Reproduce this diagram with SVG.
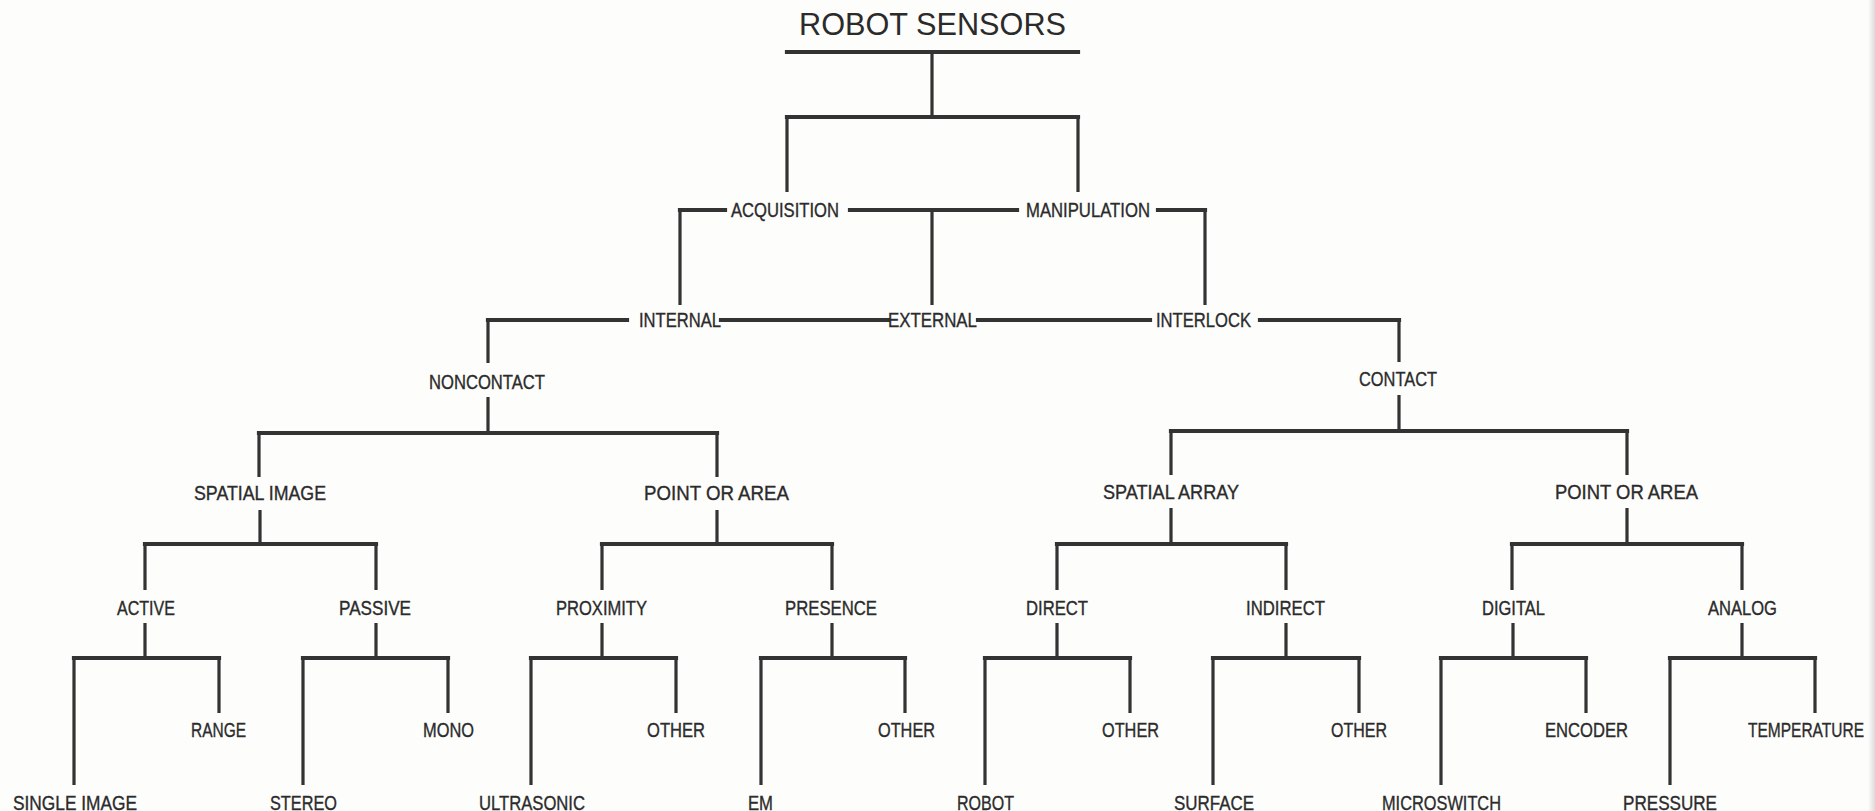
<svg xmlns="http://www.w3.org/2000/svg" width="1875" height="811" viewBox="0 0 1875 811">
<defs>
<linearGradient id="edge" x1="0" y1="0" x2="1" y2="0">
<stop offset="0" stop-color="#fdfdfc"/>
<stop offset="1" stop-color="#dcdcdc"/>
</linearGradient>
</defs>
<style>
.bg{fill:#fdfdfc}
.h{fill:none;stroke:#333;stroke-width:4.2;stroke-linecap:square;stroke-linejoin:miter}
.v{fill:none;stroke:#333;stroke-width:3.2;stroke-linecap:butt}
text{font-family:"Liberation Sans",Arial,sans-serif;fill:#2b2b2b;text-anchor:middle}
.t{font-size:32px}
.l{font-size:20px;stroke:#2b2b2b;stroke-width:0.35}
</style>
<rect class="bg" x="0" y="0" width="1875" height="811"/>
<rect x="1868" y="0" width="7" height="811" fill="url(#edge)"/>
<g id="connectors">
<path class="h" d="M787 52H1078"/>
<path class="v" d="M932 52V117"/>
<path class="h" d="M787 117H1078"/>
<path class="v" d="M787 117V192M1078 117V192"/>
<path class="h" d="M680 210H725M850 210H1017M1158 210H1205"/>
<path class="v" d="M680 210V305M932 210V305M1205 210V305"/>
<path class="h" d="M488 320H627M721 320H888M978 320H1150M1260 320H1399"/>
<path class="v" d="M488 320V363M1399 320V362"/>
<path class="v" d="M488 397V433M1399 395V431"/>
<path class="h" d="M259 433H717M1171 431H1627"/>
<path class="v" d="M259 433V477M717 433V477M1171 431V475M1627 431V475"/>
<path class="v" d="M260 510V544M717 510V544M1171 508V544M1627 508V544"/>
<path class="h" d="M145 544H376M602 544H832M1057 544H1286M1512 544H1742"/>
<path class="v" d="M145 544V590M376 544V590M602 544V590M832 544V590M1057 544V590M1286 544V590M1512 544V590M1742 544V590"/>
<path class="v" d="M145 623V658M376 623V658M602 623V658M832 623V658M1057 623V658M1286 623V658M1513 623V658M1742 623V658"/>
<path class="h" d="M74 658H219M303 658H448M531 658H676M761 658H905M985 658H1130M1213 658H1359M1441 658H1586M1670 658H1815"/>
<path class="v" d="M74 658V785M303 658V785M531 658V785M761 658V785M985 658V785M1213 658V785M1441 658V785M1670 658V785"/>
<path class="v" d="M219 658V713M448 658V713M676 658V713M905 658V713M1130 658V713M1359 658V713M1586 658V713M1815 658V713"/>
</g>
<g id="robot-sensors"><text class="t" x="932.5" y="35" textLength="267" lengthAdjust="spacingAndGlyphs">ROBOT SENSORS</text></g>
<g id="acquisition"><text class="l" x="785" y="217" textLength="108" lengthAdjust="spacingAndGlyphs">ACQUISITION</text></g>
<g id="manipulation"><text class="l" x="1088" y="217" textLength="124" lengthAdjust="spacingAndGlyphs">MANIPULATION</text></g>
<g id="internal"><text class="l" x="680" y="327" textLength="82" lengthAdjust="spacingAndGlyphs">INTERNAL</text></g>
<g id="external"><text class="l" x="932.5" y="327" textLength="89" lengthAdjust="spacingAndGlyphs">EXTERNAL</text></g>
<g id="interlock"><text class="l" x="1203.5" y="327" textLength="95" lengthAdjust="spacingAndGlyphs">INTERLOCK</text></g>
<g id="noncontact"><text class="l" x="487" y="389" textLength="116" lengthAdjust="spacingAndGlyphs">NONCONTACT</text></g>
<g id="contact"><text class="l" x="1398" y="386" textLength="78" lengthAdjust="spacingAndGlyphs">CONTACT</text></g>
<g id="spatial-image"><text class="l" x="260" y="500" textLength="132" lengthAdjust="spacingAndGlyphs">SPATIAL  IMAGE</text></g>
<g id="point-or-area-1"><text class="l" x="716.5" y="500" textLength="145" lengthAdjust="spacingAndGlyphs">POINT  OR  AREA</text></g>
<g id="spatial-array"><text class="l" x="1171" y="499" textLength="136" lengthAdjust="spacingAndGlyphs">SPATIAL  ARRAY</text></g>
<g id="point-or-area-2"><text class="l" x="1626.5" y="499" textLength="143" lengthAdjust="spacingAndGlyphs">POINT  OR  AREA</text></g>
<g id="active"><text class="l" x="146" y="615" textLength="58" lengthAdjust="spacingAndGlyphs">ACTIVE</text></g>
<g id="passive"><text class="l" x="375" y="615" textLength="72" lengthAdjust="spacingAndGlyphs">PASSIVE</text></g>
<g id="proximity"><text class="l" x="601.5" y="615" textLength="91" lengthAdjust="spacingAndGlyphs">PROXIMITY</text></g>
<g id="presence"><text class="l" x="831" y="615" textLength="92" lengthAdjust="spacingAndGlyphs">PRESENCE</text></g>
<g id="direct"><text class="l" x="1057" y="615" textLength="62" lengthAdjust="spacingAndGlyphs">DIRECT</text></g>
<g id="indirect"><text class="l" x="1285.5" y="615" textLength="79" lengthAdjust="spacingAndGlyphs">INDIRECT</text></g>
<g id="digital"><text class="l" x="1513.5" y="615" textLength="63" lengthAdjust="spacingAndGlyphs">DIGITAL</text></g>
<g id="analog"><text class="l" x="1742.5" y="615" textLength="69" lengthAdjust="spacingAndGlyphs">ANALOG</text></g>
<g id="range"><text class="l" x="218.5" y="737" textLength="55" lengthAdjust="spacingAndGlyphs">RANGE</text></g>
<g id="mono"><text class="l" x="448.5" y="737" textLength="51" lengthAdjust="spacingAndGlyphs">MONO</text></g>
<g id="other-1"><text class="l" x="676" y="737" textLength="58" lengthAdjust="spacingAndGlyphs">OTHER</text></g>
<g id="other-2"><text class="l" x="906.5" y="737" textLength="57" lengthAdjust="spacingAndGlyphs">OTHER</text></g>
<g id="other-3"><text class="l" x="1130.5" y="737" textLength="57" lengthAdjust="spacingAndGlyphs">OTHER</text></g>
<g id="other-4"><text class="l" x="1359" y="737" textLength="56" lengthAdjust="spacingAndGlyphs">OTHER</text></g>
<g id="encoder"><text class="l" x="1586.5" y="737" textLength="83" lengthAdjust="spacingAndGlyphs">ENCODER</text></g>
<g id="temperature"><text class="l" x="1806" y="737" textLength="116" lengthAdjust="spacingAndGlyphs">TEMPERATURE</text></g>
<g id="single-image"><text class="l" x="75" y="809.5" textLength="124" lengthAdjust="spacingAndGlyphs">SINGLE  IMAGE</text></g>
<g id="stereo"><text class="l" x="303.5" y="809.5" textLength="67" lengthAdjust="spacingAndGlyphs">STEREO</text></g>
<g id="ultrasonic"><text class="l" x="532" y="809.5" textLength="106" lengthAdjust="spacingAndGlyphs">ULTRASONIC</text></g>
<g id="em"><text class="l" x="760.5" y="809.5" textLength="25" lengthAdjust="spacingAndGlyphs">EM</text></g>
<g id="robot"><text class="l" x="985.5" y="809.5" textLength="57" lengthAdjust="spacingAndGlyphs">ROBOT</text></g>
<g id="surface"><text class="l" x="1214" y="809.5" textLength="80" lengthAdjust="spacingAndGlyphs">SURFACE</text></g>
<g id="microswitch"><text class="l" x="1441.5" y="809.5" textLength="119" lengthAdjust="spacingAndGlyphs">MICROSWITCH</text></g>
<g id="pressure"><text class="l" x="1670" y="809.5" textLength="94" lengthAdjust="spacingAndGlyphs">PRESSURE</text></g>
</svg>
